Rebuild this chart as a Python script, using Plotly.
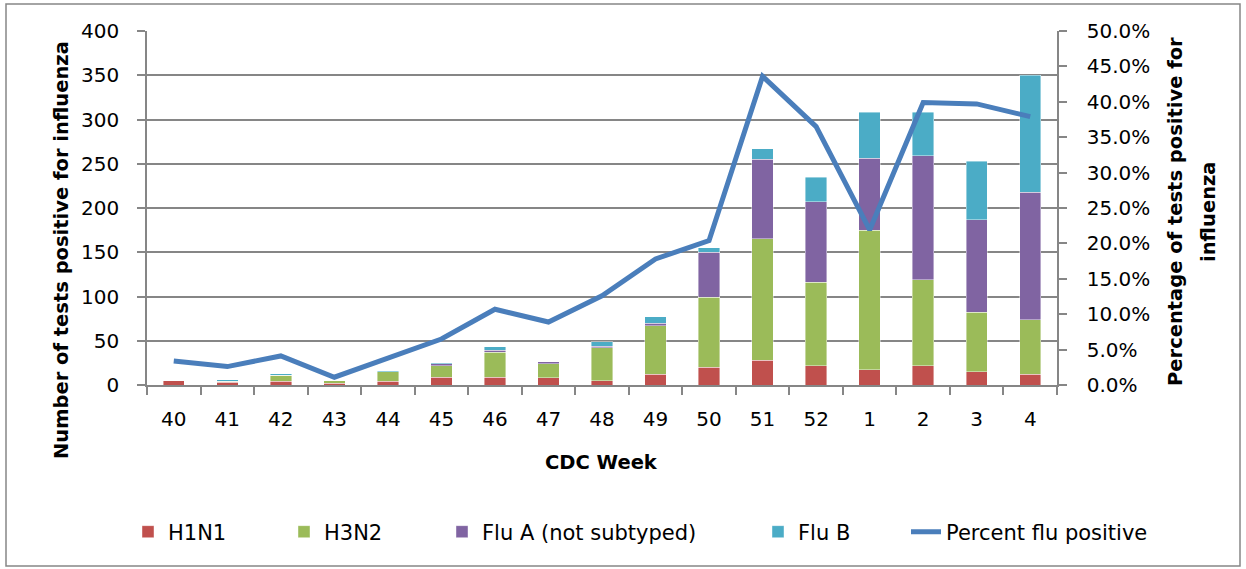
import plotly.graph_objects as go

weeks = ["40", "41", "42", "43", "44", "45", "46", "47", "48", "49", "50", "51", "52", "1", "2", "3", "4"]
h1n1 = [5, 3, 4, 2, 4, 9, 9, 8, 5, 12, 20, 28, 22, 17, 22, 15, 12]
h3n2 = [0, 1, 7, 3, 11, 13, 28, 16, 37, 55, 79, 137, 94, 158, 97, 67, 62]
flu_a = [0, 0, 0, 0, 0, 2, 2, 2, 2, 3, 51, 90, 91, 81, 140, 105, 144]
flu_b = [0, 2, 2, 0, 1, 1, 4, 0, 5, 7, 5, 12, 28, 52, 49, 66, 132]
pct_positive = [3.4, 2.6, 4.1, 1.1, 3.8, 6.5, 10.7, 8.9, 12.6, 17.8, 20.4, 43.6, 36.5, 21.9, 39.9, 39.7, 37.9]

W, H = 1246, 569
L, R, T, B = 147, 1057, 31, 385
PW, PH = R - L, B - T


def px(x):
    return (x - L) / PW


def py(y):
    return (B - y) / PH


FONT = "DejaVu Sans"
GRID = "#868686"

fig = go.Figure()
series = [
    ("H1N1", h1n1, "#C0504D", "legend"),
    ("H3N2", h3n2, "#9BBB59", "legend2"),
    ("Flu A (not subtyped)", flu_a, "#8064A2", "legend3"),
    ("Flu B", flu_b, "#4BACC6", "legend4"),
]
for name, vals, col, lg in series:
    fig.add_trace(go.Bar(x=weeks, y=vals, name=name,
                         marker=dict(color=col, line=dict(width=0.6, color="rgba(255,255,255,0.7)")),
                         legend=lg))

fig.add_trace(go.Scatter(x=weeks, y=[v / 100 for v in pct_positive], name="Percent flu positive",
                         mode="lines", line=dict(color="#4A7EBB", width=5), yaxis="y2",
                         legend="legend5"))

text_starts = [170, 326, 484, 800, 948]
leg_common = dict(orientation="h", yanchor="middle", y=py(532), xanchor="left",
                  font=dict(family=FONT, size=21, color="#000"), bgcolor="rgba(0,0,0,0)",
                  borderwidth=0)
legends = {}
for i, ts in enumerate(text_starts):
    key = "legend" if i == 0 else f"legend{i+1}"
    legends[key] = dict(leg_common, x=px(ts - 42))

fig.update_layout(
    width=W, height=H,
    margin=dict(l=L, r=W - R, t=T, b=H - B),
    paper_bgcolor="white", plot_bgcolor="white",
    barmode="stack", bargap=0.6,
    font=dict(family=FONT, size=20, color="#000"),
    xaxis=dict(type="category", tickson="boundaries", ticks="outside", ticklen=8, tickcolor=GRID,
               tickwidth=1.5, showline=True, linecolor=GRID, linewidth=1.5, showgrid=False,
               tickfont=dict(family=FONT, size=20, color="#000"), ticklabelstandoff=15,
               range=[-0.5, 16.5]),
    yaxis=dict(range=[0, 400], dtick=50, showgrid=True, gridcolor=GRID, gridwidth=1.5,
               showline=True, linecolor=GRID, linewidth=1.5, ticks="outside", ticklen=8,
               tickcolor=GRID, tickwidth=1.5, zeroline=False,
               tickfont=dict(family=FONT, size=20, color="#000"), ticklabelstandoff=14),
    yaxis2=dict(range=[0, 0.5], dtick=0.05, tickformat=".1%", overlaying="y", side="right",
                showgrid=False, showline=True, linecolor=GRID, linewidth=1.5, ticks="outside",
                ticklen=8, tickcolor=GRID, tickwidth=1.5, zeroline=False,
                tickfont=dict(family=FONT, size=20, color="#000"), ticklabelstandoff=16),
    showlegend=True,
    **legends,
)

annots = [
    dict(text="<b>Number of tests positive for influenza</b>", x=px(61), y=py(250), textangle=-90),
    dict(text="<b>Percentage of tests positive for</b>", x=px(1175), y=py(212), textangle=-90),
    dict(text="<b>influenza</b>", x=px(1208), y=py(212), textangle=-90),
    dict(text="<b>CDC Week</b>", x=px(601), y=py(462)),
]
for a in annots:
    fig.add_annotation(xref="paper", yref="paper", showarrow=False, xanchor="center",
                       yanchor="middle", font=dict(family=FONT, size=19.5, color="#000"), **a)

fig.add_shape(type="rect", xref="paper", yref="paper", x0=px(6), x1=px(1240), y0=py(566), y1=py(4),
              line=dict(color="#868686", width=1.5), layer="below")

fig.write_html("out.html", config={"displayModeBar": False},
               post_script="document.body.style.margin='0';document.body.style.padding='0';")
